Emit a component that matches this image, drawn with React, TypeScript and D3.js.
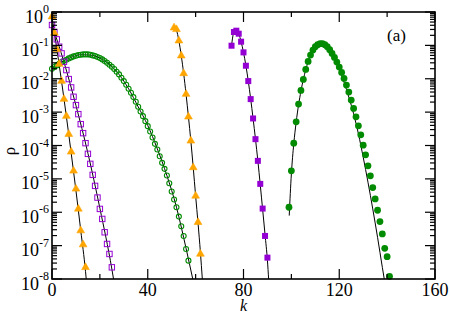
import React from 'react';
import * as d3 from 'd3';

// values are log10(rho)
const kTriA = d3.range(0, 15);
const logTriA = [-0.14, -0.63, -1.12, -1.56, -2.07, -2.61, -3.12, -3.66, -4.19, -4.76, -5.3, -5.9, -6.55, -6.97, -7.65];

const kSqOpen = d3.range(0, 26);
const logSqOpen = [-0.39, -0.6, -0.82, -1.04, -1.24, -1.49, -1.74, -2.01, -2.26, -2.54, -2.79, -3.06, -3.36, -3.63,
  -3.93, -4.25, -4.55, -4.88, -5.21, -5.56, -5.9, -6.2, -6.6, -6.95, -7.25, -7.65];

const kCircOpen = d3.range(0, 58);
const logCircOpen = [-1.7, -1.65, -1.6, -1.55, -1.5, -1.46, -1.43, -1.39, -1.36, -1.33, -1.31, -1.29, -1.28, -1.27,
  -1.27, -1.27, -1.28, -1.3, -1.32, -1.35, -1.38, -1.42, -1.47, -1.52, -1.58, -1.64, -1.71, -1.79, -1.87, -1.97,
  -2.07, -2.18, -2.3, -2.42, -2.55, -2.69, -2.84, -2.98, -3.12, -3.27, -3.42, -3.58, -3.76, -3.95, -4.12, -4.32,
  -4.52, -4.7, -4.9, -5.13, -5.38, -5.62, -5.85, -6.13, -6.42, -6.71, -7.1, -7.45];

const kTriB = d3.range(51, 63);
const logTriB = [-0.47, -0.52, -0.86, -1.31, -1.84, -2.46, -3.14, -3.86, -4.66, -5.51, -6.3, -7.25];

const kSqFill = d3.range(75, 91);
const logSqFill = [-1.01, -0.6, -0.56, -0.65, -0.89, -1.21, -1.61, -2.07, -2.61, -3.19, -3.81, -4.46, -5.15, -5.89, -6.71, -7.36];

const kCircFill = d3.range(99, 142);
const logCircFill = [-5.85, -4.76, -3.93, -3.29, -2.76, -2.35, -2.02, -1.72, -1.48, -1.29, -1.14, -1.04, -0.98, -0.95,
  -0.95, -0.98, -1.04, -1.13, -1.24, -1.36, -1.5, -1.65, -1.81, -1.99, -2.19, -2.4, -2.64, -2.89, -3.14, -3.41, -3.68,
  -3.99, -4.28, -4.61, -4.91, -5.26, -5.6, -5.94, -6.28, -6.65, -7.08, -7.33, -7.92];

// theory curves (black lines)
const fitK1 = [0, 2, 4, 6, 8, 10, 12, 14, 14.3];
const fitLog1 = [-0.14, -1.1, -2.08, -3.13, -4.22, -5.35, -6.54, -7.77, -8];
const fitK2 = [0, 5, 10, 15, 20, 25, 25.7];
const fitLog2 = [-0.39, -1.5, -2.8, -4.23, -5.88, -7.7, -8];
const fitK3 = [0, 4, 8, 12, 16, 20, 24, 28, 32, 36, 40, 44, 48, 52, 56, 58.8];
const fitLog3 = [-1.7, -1.5, -1.36, -1.28, -1.29, -1.38, -1.57, -1.87, -2.3, -2.84, -3.4, -4.1, -4.9, -5.85, -7.08, -8];
const fitK4 = [51, 52, 53, 54, 55, 56, 57, 58, 59, 60, 61, 62, 62.8];
const fitLog4 = [-0.47, -0.55, -0.86, -1.31, -1.84, -2.46, -3.14, -3.86, -4.66, -5.51, -6.32, -7.2, -8];
const fitK5 = [75, 76, 77, 78, 79, 80, 82, 84, 86, 88, 89, 90, 90.5];
const fitLog5 = [-1.01, -0.6, -0.55, -0.65, -0.89, -1.21, -2.07, -3.19, -4.46, -5.92, -6.67, -7.45, -8];
const fitK6 = [99.1, 100, 101, 102, 104, 106, 108, 110, 112, 114, 116, 118, 120, 122, 124, 126, 128, 130, 132, 134, 136, 138, 138.8];
const fitLog6 = [-6.1, -4.85, -3.95, -3.3, -2.37, -1.73, -1.3, -1.04, -0.95, -0.98, -1.14, -1.4, -1.72, -2.1, -2.55,
  -3.05, -3.65, -4.35, -5.1, -5.9, -6.75, -7.65, -8];

const xMajor = [0, 40, 80, 120, 160];
const xMinor = [20, 60, 100, 140];
const yExponents = [0, -1, -2, -3, -4, -5, -6, -7, -8];

const ORANGE = '#ffa500';
const VIOLET = '#9400d3';
const GREEN = '#008b00';
const FONT = 'Liberation Serif';

const App = () => {
  const width = 450;
  const height = 314;
  const left = 52, right = 435, top = 12, bottom = 279;

  const x = d3.scaleLinear().domain([0, 160]).range([left, right]);
  const y = d3.scaleLog().domain([1e-8, 1]).range([bottom, top]);

  const line = d3.line<[number, number]>()
    .x(d => x(d[0]))
    .y(d => y(Math.pow(10, d[1])))
    .curve(d3.curveMonotoneX);

  const fits = [
    [fitK1, fitLog1], [fitK2, fitLog2], [fitK3, fitLog3],
    [fitK4, fitLog4], [fitK5, fitLog5], [fitK6, fitLog6],
  ].map(([ks, vs]) => line(ks.map((k, i) => [k, vs[i]] as [number, number])));

  const tri = d3.symbol().type(d3.symbolTriangle).size(26)();
  const py = (v: number) => y(Math.pow(10, v));

  const yTicks = y.ticks();

  return (
    <svg width={width} height={height} style={{ position: 'absolute', left: 0, top: 0, background: '#fff' }}>
      <rect x={0} y={0} width={width} height={height} fill="#fff" />

      {/* fit lines */}
      <g fill="none" stroke="#000" strokeWidth={1}>
        {fits.map((d, i) => <path key={i} d={d || ''} />)}
      </g>

      {/* open circles */}
      <g fill="none" stroke={GREEN} strokeWidth={1.1}>
        {kCircOpen.map((k, i) => <circle key={i} cx={x(k)} cy={py(logCircOpen[i])} r={2.5} />)}
      </g>
      {/* open squares */}
      <g fill="none" stroke={VIOLET} strokeWidth={1}>
        {kSqOpen.map((k, i) => <rect key={i} x={x(k) - 2.7} y={py(logSqOpen[i]) - 2.7} width={5.4} height={5.4} />)}
      </g>
      {/* triangles */}
      <g fill={ORANGE} stroke={ORANGE} strokeWidth={0.6}>
        {kTriA.map((k, i) => <path key={'a' + i} d={tri || ''} transform={`translate(${x(k)},${py(logTriA[i])})`} />)}
        {kTriB.map((k, i) => <path key={'b' + i} d={tri || ''} transform={`translate(${x(k)},${py(logTriB[i])})`} />)}
      </g>
      {/* filled squares */}
      <g fill={VIOLET}>
        {kSqFill.map((k, i) => <rect key={i} x={x(k) - 3} y={py(logSqFill[i]) - 3} width={6} height={6} />)}
      </g>
      {/* filled circles */}
      <g fill={GREEN}>
        {kCircFill.map((k, i) => <circle key={i} cx={x(k)} cy={py(logCircFill[i])} r={3.4} />)}
      </g>

      {/* frame */}
      <rect x={left} y={top} width={right - left} height={bottom - top} fill="none" stroke="#000" strokeWidth={1.6} />

      {/* ticks */}
      <g stroke="#000" strokeWidth={1.2}>
        {xMajor.map(t => (
          <g key={'M' + t}>
            <line x1={x(t)} x2={x(t)} y1={bottom} y2={bottom - 10} />
            <line x1={x(t)} x2={x(t)} y1={top} y2={top + 10} />
          </g>
        ))}
        {xMinor.map(t => (
          <g key={'m' + t}>
            <line x1={x(t)} x2={x(t)} y1={bottom} y2={bottom - 5} />
            <line x1={x(t)} x2={x(t)} y1={top} y2={top + 5} />
          </g>
        ))}
        {yTicks.map((t, i) => {
          const major = Math.abs(Math.log10(t) - Math.round(Math.log10(t))) < 1e-6;
          const len = major ? 10 : 5;
          return (
            <g key={'y' + i}>
              <line x1={left} x2={left + len} y1={y(t)} y2={y(t)} />
              <line x1={right} x2={right - len} y1={y(t)} y2={y(t)} />
            </g>
          );
        })}
      </g>

      {/* tick labels */}
      <g fontSize={18} fill="#000">
        {xMajor.map(t => (
          <text key={t} fontFamily={FONT} x={x(t)} y={bottom + 17} textAnchor="middle">{t}</text>
        ))}
        {yExponents.map(e => (
          <text key={e} fontFamily={FONT} x={left - 3} y={y(Math.pow(10, e)) + 10.5} textAnchor="end">
            <tspan>10</tspan>
            <tspan fontSize={12} dy={-9.5}>{e === 0 ? '0' : '-' + Math.abs(e)}</tspan>
          </text>
        ))}
      </g>

      {/* axis titles */}
      <text fontFamily={FONT} x={(left + right) / 2} y={310.5} textAnchor="middle" fontSize={16} fontStyle="italic">k</text>
      <text fontFamily={FONT} transform="translate(15,151) rotate(-90)" textAnchor="middle" fontSize={17}>ρ</text>
      <text fontFamily={FONT} x={387} y={40.5} fontSize={17}>(a)</text>
    </svg>
  );
};

export default App;
